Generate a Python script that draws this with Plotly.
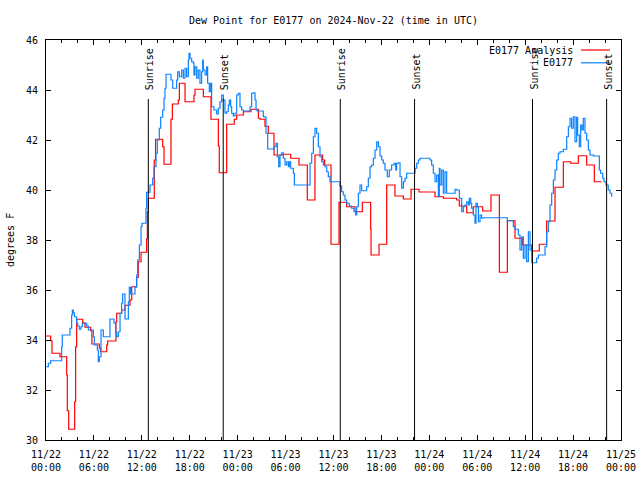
import pandas as pd
import plotly.graph_objects as go

title_text = "Dew Point for E0177 on 2024-Nov-22 (time in UTC)"
start_time = "2024-11-22 00:00"
end_time = "2024-11-25 00:00"
y_title = "degrees F"

# E0177 Analysis (hours after start, value held until next point)
analysis_hours = [
    0.00, 0.58, 0.75, 1.75, 2.59, 2.67, 2.84, 3.59, 3.71, 3.84,
    4.59, 4.88, 5.59, 5.75, 6.68, 6.84, 7.60, 7.72, 8.76, 8.85,
    9.47, 9.89, 10.52, 10.73, 11.35, 11.55, 11.90, 12.60, 12.69, 12.81,
    13.56, 13.72, 14.61, 14.78, 15.65, 15.82, 16.57, 16.70, 17.41, 18.53,
    18.66, 19.70, 20.66, 21.58, 21.70, 22.62, 23.58, 23.88, 24.71, 25.67,
    26.59, 26.80, 27.42, 27.84, 28.55, 29.72, 30.64, 31.68, 32.72, 33.68,
    34.64, 34.89, 35.69, 36.69, 37.65, 38.69, 39.61, 40.65, 40.70, 41.70,
    42.66, 43.70, 44.74, 45.71, 46.71, 48.71, 49.75, 51.42, 51.76, 52.68,
    53.51, 54.68, 55.72, 56.77, 57.77, 58.73, 59.69, 60.82, 61.77, 62.69,
    63.74, 64.78, 65.70, 66.66, 67.70, 68.66, 69.58,
]
analysis_values = [
    34.16, 33.97, 33.47, 33.33, 32.60, 31.17, 30.43, 31.53, 33.73, 34.83,
    34.69, 34.51, 34.37, 33.84, 33.67, 33.53, 33.80, 33.96, 34.73, 35.07,
    35.20, 35.39, 35.60, 36.13, 36.50, 37.13, 37.51, 38.04, 39.13, 39.67,
    41.20, 42.03, 41.73, 41.03, 42.83, 43.44, 43.60, 44.27, 43.53, 43.80,
    44.03, 43.73, 42.83, 41.76, 40.69, 42.63, 42.83, 43.00, 43.13, 43.23,
    42.87, 42.83, 42.55, 42.27, 41.40, 41.43, 41.27, 41.00, 39.60, 41.40,
    41.20, 41.00, 37.83, 39.51, 39.33, 39.13, 39.51, 38.44, 37.40, 37.83,
    40.20, 39.76, 39.64, 40.03, 39.92, 39.73, 39.67, 39.60, 39.36, 39.09,
    39.33, 39.16, 39.80, 36.71, 38.77, 38.07, 37.80, 37.56, 37.83, 38.76,
    40.11, 41.13, 41.07, 41.37, 41.00, 40.33, 40.33,
]

# E0177 observations
obs_hours = [
    0.00, 0.29, 0.58, 1.96, 2.04, 3.00, 3.21, 3.30, 3.42, 3.55,
    3.84, 3.97, 4.17, 4.38, 4.55, 5.09, 5.30, 5.93, 6.05, 6.43,
    6.55, 6.68, 6.89, 7.18, 8.01, 8.51, 8.72, 8.85, 9.06, 9.27,
    9.47, 9.60, 9.89, 10.31, 10.43, 10.60, 11.14, 11.35, 11.48, 11.69,
    11.90, 12.02, 12.52, 12.60, 13.02, 13.36, 13.52, 13.77, 13.94, 14.19,
    14.36, 14.61, 14.78, 14.90, 15.03, 15.65, 15.86, 16.36, 16.49, 16.70,
    16.99, 17.20, 17.41, 17.61, 17.82, 17.91, 18.03, 18.24, 18.45, 18.53,
    18.66, 18.87, 19.07, 19.28, 19.49, 19.62, 19.70, 19.91, 20.12, 20.24,
    20.45, 20.62, 20.74, 21.03, 21.37, 21.58, 21.79, 22.00, 22.21, 22.41,
    22.62, 22.83, 22.96, 23.12, 23.25, 23.46, 23.67, 23.88, 24.08, 24.29,
    24.50, 24.71, 25.55, 25.75, 25.96, 26.17, 26.30, 26.46, 27.21, 27.42,
    27.55, 27.76, 28.55, 28.80, 28.97, 29.14, 29.30, 29.51, 29.72, 29.93,
    30.14, 30.35, 30.47, 30.64, 30.97, 31.10, 33.06, 33.27, 33.48, 33.68,
    33.89, 34.10, 34.31, 34.52, 34.73, 34.94, 35.15, 35.35, 35.56, 36.81,
    37.02, 37.23, 37.44, 37.65, 37.98, 38.27, 38.57, 38.78, 38.90, 39.11,
    39.32, 39.53, 40.15, 40.36, 40.57, 40.78, 40.99, 41.20, 41.41, 41.62,
    41.83, 42.04, 42.24, 42.45, 42.74, 42.99, 43.28, 43.58, 43.79, 43.91,
    44.12, 44.33, 44.54, 44.75, 44.95, 45.16, 46.21, 46.42, 46.62, 46.83,
    48.08, 48.29, 48.50, 48.71, 48.92, 49.13, 49.25, 49.34, 49.55, 49.75,
    49.96, 50.17, 51.22, 51.42, 51.76, 52.05, 52.26, 52.47, 52.68, 52.89,
    53.01, 53.18, 53.30, 53.51, 53.72, 53.84, 54.01, 54.14, 54.35, 54.55,
    54.76, 57.77, 58.52, 58.73, 59.15, 59.35, 59.56, 59.77, 59.98, 60.19,
    60.40, 60.61, 60.82, 61.44, 61.65, 62.49, 62.69, 62.90, 63.11, 63.32,
    63.53, 63.74, 63.95, 64.15, 64.36, 64.78, 65.20, 65.41, 65.62, 65.82,
    66.03, 66.24, 66.45, 66.57, 66.78, 66.95, 67.12, 67.28, 67.49, 67.70,
    67.91, 68.12, 68.54, 69.29, 69.45, 69.71, 69.87, 70.12, 70.40, 70.62,
    70.83,
]
obs_values = [
    32.93, 33.07, 33.17, 33.73, 34.20, 34.47, 35.00, 35.20, 35.09, 34.93,
    34.67, 34.56, 34.43, 34.53, 34.67, 34.56, 34.40, 34.13, 33.80, 33.60,
    33.13, 33.33, 34.40, 34.13, 34.84, 34.67, 34.29, 34.13, 34.33, 35.07,
    35.47, 35.84, 34.84, 35.53, 36.11, 35.84, 36.11, 36.60, 37.20, 37.80,
    38.53, 38.67, 39.27, 39.91, 40.20, 40.47, 40.93, 41.47, 42.00, 42.47,
    42.91, 43.20, 43.67, 44.07, 44.63, 44.40, 44.07, 44.40, 44.73, 44.53,
    44.80, 44.47, 44.87, 44.53, 45.20, 45.47, 45.27, 45.13, 45.07, 44.60,
    44.93, 44.47, 44.80, 44.27, 44.73, 45.20, 44.80, 44.60, 44.93, 44.27,
    43.93, 44.27, 43.33, 43.20, 43.04, 43.27, 43.53, 43.80, 43.60, 43.07,
    43.13, 43.40, 43.60, 43.33, 43.07, 42.96, 43.07, 43.80, 43.87, 43.33,
    43.20, 43.16, 43.33, 43.87, 43.89, 43.60, 43.20, 43.16, 42.93, 42.91,
    42.27, 41.64, 41.73, 41.87, 41.33, 40.93, 41.40, 41.49, 41.27, 41.00,
    41.13, 40.93, 41.13, 40.87, 40.67, 40.20, 41.07, 41.47, 42.13, 42.47,
    42.27, 41.73, 41.33, 41.13, 41.00, 40.93, 40.73, 40.53, 40.33, 40.16,
    39.93, 39.80, 39.60, 39.47, 39.36, 39.27, 39.13, 39.00, 39.33, 39.87,
    40.20, 39.97, 40.13, 40.47, 40.93, 41.00, 41.27, 41.60, 41.93, 41.73,
    41.36, 41.20, 41.07, 40.80, 40.53, 40.80, 41.00, 41.07, 40.80, 41.07,
    41.09, 40.53, 40.07, 40.33, 40.47, 40.67, 40.87, 41.07, 41.20, 41.27,
    41.20, 41.00, 40.67, 40.33, 40.60, 39.73, 40.87, 40.20, 40.80, 39.87,
    40.73, 39.87, 40.03, 40.00, 39.67, 39.13, 39.33, 39.40, 39.53, 39.40,
    39.67, 39.47, 39.27, 39.00, 38.67, 39.47, 39.33, 38.73, 39.00, 38.87,
    38.89, 38.77, 38.53, 38.43, 38.20, 37.60, 38.13, 37.27, 37.80, 37.13,
    38.33, 37.60, 37.09, 37.27, 37.40, 37.73, 38.33, 38.73, 39.40, 39.87,
    40.40, 40.80, 41.20, 41.47, 41.53, 41.63, 42.13, 42.53, 42.87, 42.47,
    42.93, 41.93, 42.91, 42.20, 41.73, 42.60, 42.40, 42.87, 42.27, 42.00,
    41.60, 41.40, 41.36, 40.80, 40.67, 40.47, 40.33, 40.20, 40.00, 39.87,
    39.73,
]

sun_hours = [12.81, 22.19, 36.85, 46.15, 60.92, 70.20]
sun_labels = ["Sunrise", "Sunset", "Sunrise", "Sunset", "Sunrise", "Sunset"]

series_names = ["E0177 Analysis", "E0177"]
series_colors = ["#ff0000", "#0a82ff"]

assert len(analysis_hours) == len(analysis_values)
assert len(obs_hours) == len(obs_values)

t0 = pd.Timestamp(start_time)
to_time = lambda hrs: [t0 + pd.Timedelta(hours=h) for h in hrs]

MONO = "DejaVu Sans Mono"
fig = go.Figure()
fig.add_trace(go.Scatter(x=to_time(analysis_hours), y=analysis_values, mode="lines",
                         line=dict(color=series_colors[0], width=1.2, shape="hv"),
                         name=series_names[0]))
fig.add_trace(go.Scatter(x=to_time(obs_hours), y=obs_values, mode="lines",
                         line=dict(color=series_colors[1], width=1.2, shape="hv"),
                         name=series_names[1]))

line_top = 43.64
label_bottom = 43.92
for h, lab in zip(sun_hours, sun_labels):
    t = t0 + pd.Timedelta(hours=h)
    fig.add_shape(type="line", x0=t, x1=t, y0=30, y1=line_top, xref="x", yref="y",
                  line=dict(color="black", width=1))
    fig.add_annotation(x=t, y=label_bottom, xref="x", yref="y", text=lab, textangle=-90,
                       showarrow=False, xanchor="center", yanchor="bottom", xshift=1,
                       font=dict(family=MONO, size=10, color="black"))

# gnuplot-style key: text right-aligned, sample line to the right
key_rows = [0.975, 0.943]
for name, col, yy in zip(series_names, series_colors, key_rows):
    fig.add_annotation(x=0.92, y=yy, xref="paper", yref="paper", text=name, showarrow=False,
                       xanchor="right", yanchor="middle",
                       font=dict(family=MONO, size=10, color="black"))
    fig.add_shape(type="line", x0=0.9304, x1=0.9809, y0=yy, y1=yy, xref="paper", yref="paper",
                  line=dict(color=col, width=1.2))

fig.add_annotation(x=-0.0626, y=0.5, xref="paper", yref="paper", text=y_title, textangle=-90,
                   showarrow=False, xanchor="center", yanchor="middle",
                   font=dict(family=MONO, size=10, color="black"))

fig.update_layout(
    width=640, height=480,
    margin=dict(l=46, r=19, t=40, b=40, autoexpand=False),
    paper_bgcolor="white", plot_bgcolor="white",
    showlegend=False,
    title=dict(text=title_text, x=0.5, xref="paper", y=1 - 20 / 480, yref="container",
               xanchor="center", yanchor="middle",
               font=dict(family=MONO, size=10, color="black")),
    font=dict(family=MONO, size=10, color="black"),
)
fig.update_xaxes(
    type="date", range=[start_time, end_time], automargin=False,
    tick0=start_time, dtick=6 * 3600 * 1000, tickformat="%m/%d<br>%H:%M",
    ticks="inside", ticklen=5, tickcolor="black",
    minor=dict(dtick=2 * 3600 * 1000, ticks="inside", ticklen=3, tickcolor="black"),
    showline=True, linecolor="black", linewidth=1, mirror="ticks",
    showgrid=False, zeroline=False, ticklabelstandoff=5,
    tickfont=dict(family=MONO, size=10, color="black"),
)
fig.update_yaxes(
    range=[30, 46], dtick=2, tick0=30, automargin=False,
    ticks="inside", ticklen=5, tickcolor="black",
    showline=True, linecolor="black", linewidth=1, mirror="ticks",
    showgrid=False, zeroline=False, ticklabelstandoff=5,
    tickfont=dict(family=MONO, size=10, color="black"),
)

fig.write_html(
    "out.html",
    config={"displayModeBar": False},
    post_script="document.body.style.margin='0';document.body.style.padding='0';",
)
